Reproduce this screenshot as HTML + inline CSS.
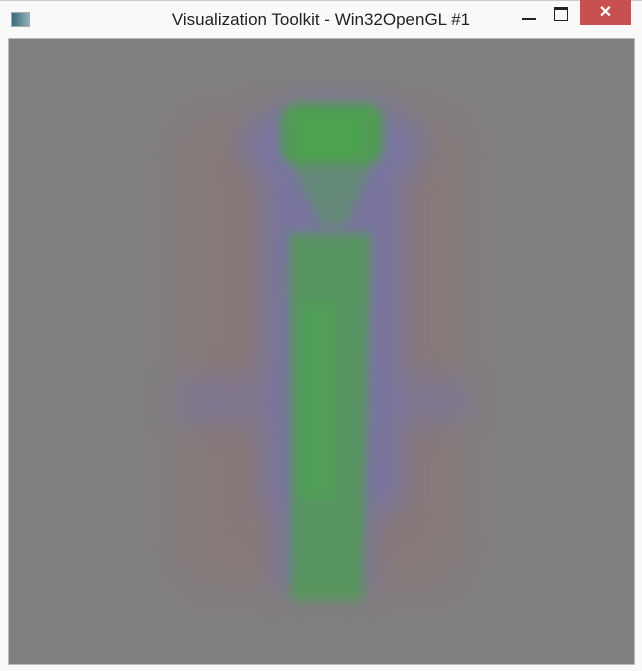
<!DOCTYPE html>
<html><head><meta charset="utf-8"><style>
body{margin:0;width:642px;height:671px;background:#f9f9f9;overflow:hidden;font-family:"Liberation Sans",sans-serif;position:relative}
.title{position:absolute;left:0;top:10px;width:642px;text-align:center;font-size:17px;color:#222;}
</style></head><body>
<div style="position:absolute;left:0;top:0;width:642px;height:671px;border-top:1px solid #ccc;box-sizing:border-box"></div>
<div style="position:absolute;left:11px;top:12px;width:17px;height:13px;background:linear-gradient(90deg,#3a6a7a,#8fb0b8);border:1px solid #aaa"></div>
<div class="title">Visualization Toolkit - Win32OpenGL #1</div>
<div style="position:absolute;left:522px;top:18px;width:14px;height:2px;background:#222"></div>
<div style="position:absolute;left:554px;top:7px;width:12px;height:10px;border:1px solid #222;border-top:3px solid #222"></div>
<div style="position:absolute;left:580px;top:0;width:51px;height:25px;background:#c75050;color:#fff;text-align:center;font-size:16px;line-height:25px;font-weight:bold">✕</div>
<svg style="position:absolute;left:8px;top:38px;border:1px solid #bbb" width="625" height="625" viewBox="8 38 625 625">
<defs>
<filter id="b30" x="-50%" y="-50%" width="200%" height="200%"><feGaussianBlur stdDeviation="30"/></filter>
<filter id="b12" x="-50%" y="-50%" width="200%" height="200%"><feGaussianBlur stdDeviation="14"/></filter>
<filter id="b6" x="-50%" y="-50%" width="200%" height="200%"><feGaussianBlur stdDeviation="5"/></filter>
</defs>
<rect x="8" y="38" width="625" height="625" fill="#808080"/>
<g filter="url(#b30)" fill="#8a7676" opacity="0.7">
<rect x="175" y="110" width="290" height="480"/>
</g>
<g filter="url(#b12)" fill="#7072b8" opacity="0.6">
<ellipse cx="332" cy="145" rx="92" ry="48"/>
<rect x="262" y="170" width="140" height="340"/>
<ellipse cx="215" cy="400" rx="48" ry="25" opacity="0.6"/>
<ellipse cx="435" cy="400" rx="38" ry="25" opacity="0.6"/>
<rect x="275" y="500" width="95" height="90"/>
</g>
<g filter="url(#b6)" fill="#4ca04c">
<rect x="280" y="102" width="102" height="62" rx="18" opacity="0.9"/>
<polygon points="290,162 372,162 345,225 320,225" opacity="0.45"/>
<polygon points="288,232 370,232 362,600 290,600" opacity="0.72"/>
</g>
<g filter="url(#b6)" fill="#40b840" opacity="0.3"><rect x="300" y="300" width="35" height="200"/><rect x="300" y="115" width="60" height="40"/></g>
</svg>
</body></html>
